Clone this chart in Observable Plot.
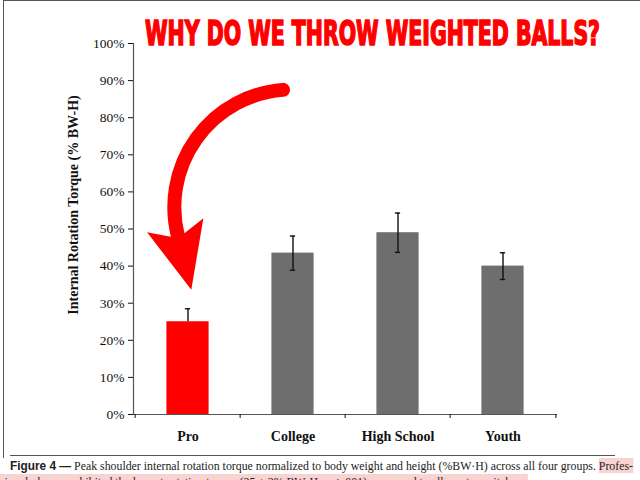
<!DOCTYPE html>
<html><head><meta charset="utf-8">
<script src="https://cdn.jsdelivr.net/npm/d3@7"></script>
<script src="https://cdn.jsdelivr.net/npm/@observablehq/plot@0.6"></script>
<style>
html,body{margin:0;padding:0;background:#fff;}
#wrap{position:relative;width:640px;height:480px;overflow:hidden;background:#fff;}
#chart{position:absolute;left:0;top:0;}
#title{position:absolute;left:145px;top:17px;font-family:"Liberation Sans Narrow","DejaVu Sans Condensed","Liberation Sans",sans-serif;font-weight:bold;font-size:33px;line-height:33px;color:#ff0000;white-space:nowrap;transform-origin:0 0;-webkit-text-stroke:1.6px #ff0000;}
#border{position:absolute;left:3px;top:0;width:640px;height:458px;border-left:1.5px solid #555;border-top:1.5px solid #555;box-sizing:border-box;pointer-events:none;}
#sep{position:absolute;left:10px;top:455px;width:605px;height:0;border-top:1.5px solid #555;}
.cap{position:absolute;left:10px;font-family:"Liberation Serif",serif;font-size:13px;line-height:16px;color:#222;white-space:nowrap;transform-origin:0 0;}
.cap b{font-family:"Liberation Sans",Arial,sans-serif;font-weight:bold;}
.hl{background:#f9d2d2;}
svg text{font-family:"Liberation Serif","Times New Roman",serif;}
</style>
</head><body>
<div id="wrap">
  <div id="chart"></div>
  <div id="border"></div>
  <div id="title"></div>
  <div id="sep"></div>
  <div class="cap" id="cap1"></div>
  <div class="cap" id="cap2"></div>
</div>
<script>
// ---- data ----
const categories = ["Pro", "College", "High School", "Youth"];
const means = [25.0, 43.5, 49.0, 40.0];
const sds = [3.5, 4.6, 5.3, 3.6];
const highlighted = ["Pro"];
const yTicks = [0, 10, 20, 30, 40, 50, 60, 70, 80, 90, 100];
const yTitle = "Internal Rotation Torque (% BW-H)";
const titleText = "WHY DO WE THROW WEIGHTED BALLS?";
const captionLabel = "Figure 4 —";
const captionLine1 = "Peak shoulder internal rotation torque normalized to body weight and height (%BW·H) across all four groups.";
const captionHl1 = "Profes-";
const captionLine2 = "sional players exhibited the lowest rotation torque (25 ± 3% BW·H, p < .001) compared to all amateur pitchers.";
// annotation arrow anchors (data space)
const arrowFrom = ["College"]; const arrowFromY = [87.5];
const arrowTo = ["Pro"]; const arrowToY = [48.0];

const data = categories.map((c, i) => ({cat: c, mean: means[i], sd: sds[i], hi: highlighted.includes(c)}));
const arrows = arrowFrom.map((c, i) => ({from: c, fromY: arrowFromY[i], to: arrowTo[i], toY: arrowToY[i]}));

// barbed arrowhead as a d3-style symbol (points up before rotation)
const arrowHead = {
  draw(ctx, size) {
    const k = Math.sqrt(size / Math.PI) / 24;
    ctx.moveTo(0, -55 * k);
    ctx.lineTo(29 * k, 11.5 * k);
    ctx.lineTo(7 * k, 1.5 * k);
    ctx.lineTo(-7 * k, 1.5 * k);
    ctx.lineTo(-29 * k, 11.5 * k);
    ctx.closePath();
  }
};

const W = 640, H = 456, mL = 133, mR = 84, mT = 43, mB = 42;
const step = (W - mL - mR) / categories.length;
const serif = '"Liberation Serif", "Times New Roman", serif';

const plot = Plot.plot({
  width: W, height: H, marginTop: mT, marginBottom: mB, marginLeft: mL, marginRight: mR,
  style: {fontFamily: serif, fontSize: "14px", color: "#111", background: "transparent", overflow: "visible"},
  x: {domain: categories, padding: 0, label: null},
  y: {domain: [0, 100], label: null},
  marks: [
    Plot.barY(data, {x: "cat", y: "mean", fill: d => d.hi ? "#ff0000" : "#6e6e6e", insetLeft: step * 0.297, insetRight: step * 0.297}),
    Plot.ruleX(data, {x: "cat", y1: d => d.hi ? d.mean : d.mean - d.sd, y2: d => d.mean + d.sd, stroke: "#111", strokeWidth: 1.4}),
    Plot.tickY(data, {x: "cat", y: d => d.mean + d.sd, insetLeft: step / 2 - 3, insetRight: step / 2 - 3, stroke: "#111", strokeWidth: 1.4}),
    Plot.tickY(data.filter(d => !d.hi), {x: "cat", y: d => d.mean - d.sd, insetLeft: step / 2 - 3, insetRight: step / 2 - 3, stroke: "#111", strokeWidth: 1.4}),
    Plot.frame({anchor: "left", stroke: "#555", strokeWidth: 1.2}),
    Plot.frame({anchor: "bottom", stroke: "#555", strokeWidth: 1.2}),
    Plot.axisY(yTicks, {tickSize: 5, tickPadding: 4, tickFormat: d => d + "%", fontSize: 13.5, fontFamily: serif, fontVariant: "normal", label: null}),
    Plot.axisX({tickSize: 0, tickPadding: 17, fontWeight: "bold", fontSize: 14, fontFamily: serif, label: null}),
    Plot.axisX(categories, {dx: -step / 2, tickSize: 4, tickFormat: () => "", label: null}),
    Plot.axisX(categories.slice(-1), {dx: step / 2, tickSize: 4, tickFormat: () => "", label: null}),
    Plot.text([yTitle], {frameAnchor: "left", textAnchor: "middle", rotate: -90, dx: -60, dy: -24, fontWeight: "bold", fontSize: 14, fontFamily: serif, fill: "#111"}),
    Plot.arrow(arrows, {x1: "from", y1: "fromY", x2: "to", y2: "toY", dx: -10, bend: -50, stroke: "#ff0000", strokeWidth: 14, headLength: 0}),
    Plot.dot(arrows, {x: "to", y: "toY", dx: -10, symbol: arrowHead, r: 24, fill: "#ff0000", stroke: "none", rotate: 166})
  ]
});
document.getElementById("chart").appendChild(plot);

// title, stretched to the reference width
const t = document.getElementById("title");
t.textContent = titleText;
const tw = t.getBoundingClientRect().width;
t.style.transform = `scaleX(${455 / tw})`;

// caption lines, condensed to the reference line width
const c1 = document.getElementById("cap1");
c1.style.top = "458px";
c1.innerHTML = `<b>${captionLabel}</b> ${captionLine1} <span class="hl">${captionHl1}</span>`;
const w1 = c1.getBoundingClientRect().width;
const sx = 623 / w1;
c1.style.transform = `scaleX(${sx})`;
const c2 = document.getElementById("cap2");
c2.style.top = "474px";
c2.style.left = "0px";
c2.innerHTML = `<span class="hl">${captionLine2}</span>`;
c2.style.transform = `scaleX(${sx})`;
</script>
</body></html>
